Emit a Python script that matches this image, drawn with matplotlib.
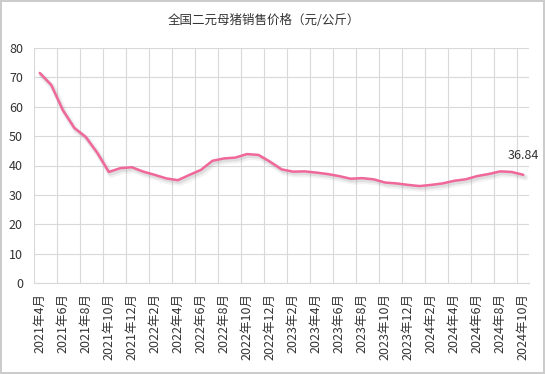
import matplotlib
matplotlib.use("Agg")
import matplotlib.pyplot as plt
import matplotlib.patheffects as pe
import numpy as np

plt.rcParams['font.family'] = ['Noto Sans CJK SC', 'DejaVu Sans']

# monthly series, 2021-04 .. 2024-10
months = [f"{y}年{m}月" for y in range(2021, 2025) for m in range(1, 13)]
months = months[3:3 + 43]
prices = [71.5, 67.4, 58.9, 52.8, 49.7, 44.3, 37.8, 39.1, 39.4,
          37.9, 36.8, 35.6, 35.0, 36.8, 38.5, 41.6, 42.4, 42.7, 43.9, 43.6, 41.3,
          38.7, 37.9, 38.0, 37.6, 37.1, 36.4, 35.5, 35.7, 35.3, 34.2, 33.9, 33.4,
          33.0, 33.4, 33.9, 34.8, 35.3, 36.4, 37.1, 38.0, 37.8, 36.84]
title = "全国二元母猪销售价格（元/公斤）"

fig = plt.figure(figsize=(5.45, 3.74), dpi=100)
fig.patch.set_edgecolor('#cccccc')
fig.patch.set_linewidth(1.5)
ax = fig.add_axes([34 / 545, 1 - 283 / 374, 495 / 545, 235 / 374])

x = np.arange(len(prices))
ax.plot(x, prices, color='#f0679a', lw=1.8, solid_joinstyle='round', solid_capstyle='round',
        path_effects=[pe.SimpleLineShadow(offset=(1.5, -2), shadow_color='#999999', alpha=0.12, linewidth=4.5),
                      pe.SimpleLineShadow(offset=(1, -1.5), shadow_color='#888888', alpha=0.18, linewidth=2.5),
                      pe.Normal()], zorder=3)

ax.annotate(f"{prices[-1]:.2f}", (x[-1], prices[-1]), xytext=(0, 9), textcoords='offset points',
            ha='center', va='bottom', fontsize=9, color='#333333')

ax.set_xlim(-0.5, len(prices) - 0.5)
ax.set_ylim(0, 80)
ax.set_yticks(range(0, 81, 10))
ax.set_xticks(x[::2])
ax.set_xticklabels(months[::2], rotation=90, fontsize=9, color='#333333')
ax.set_xticks(np.arange(-0.5, len(prices) - 1, 2), minor=True)
ax.tick_params(axis='x', which='both', length=0, pad=7)
ax.tick_params(axis='y', length=0, pad=8, labelsize=9, labelcolor='#333333')
ax.grid(True, axis='y', color='#d9d9d9', lw=0.8)
ax.grid(True, axis='x', which='minor', color='#d9d9d9', lw=0.8)
for s in ['top', 'right', 'left']:
    ax.spines[s].set_visible(False)
ax.spines['bottom'].set_color('#d9d9d9')

fig.text(264 / 545, 1 - 20 / 374, title, ha='center', va='center', fontsize=9, color='#333333')

fig.savefig("out.png", dpi=100)
